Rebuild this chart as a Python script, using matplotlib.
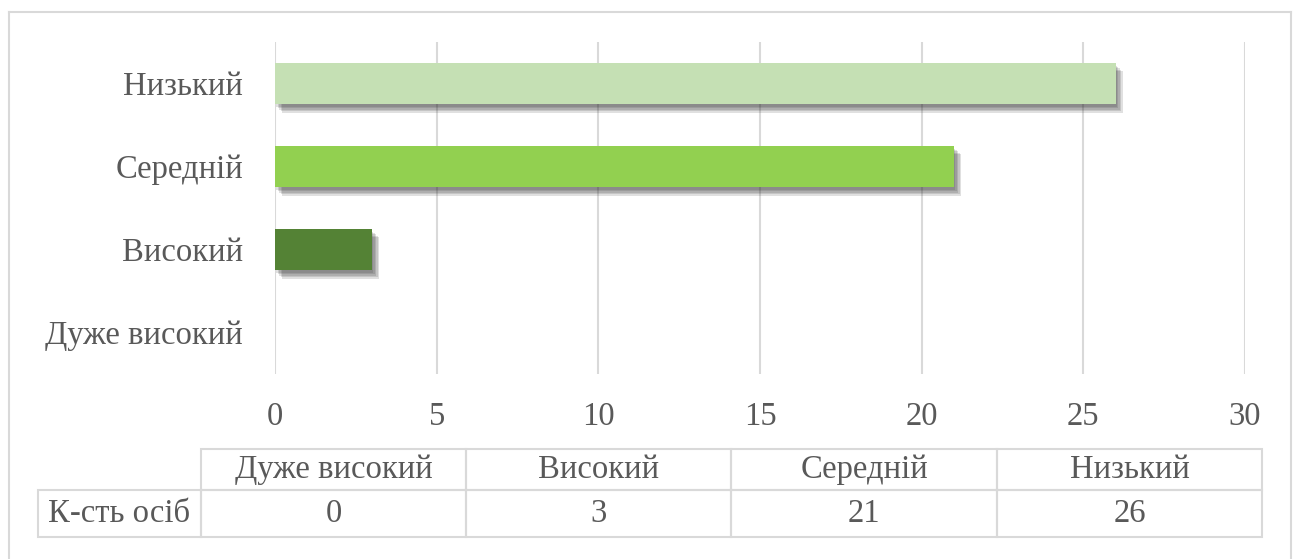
import matplotlib.pyplot as plt
import matplotlib.patheffects as pe
from matplotlib.patches import Rectangle
from matplotlib.lines import Line2D

categories = ["Дуже високий", "Високий", "Середній", "Низький"]
counts = [0, 3, 21, 26]
bar_colors = ["#A9D18E", "#548235", "#92D050", "#C5E0B4"]
row_label = "К-сть осіб"
x_ticks = [0, 5, 10, 15, 20, 25, 30]

TEXT = "#595959"
GRID = "#D9D9D9"
FS = 23.5
W, H = 1299, 559

plt.rcParams["font.family"] = ["Liberation Serif", "DejaVu Serif"]

fig = plt.figure(figsize=(W / 100, H / 100), dpi=100)


def fig_box(x0, y0, x1, y1):
    # pixel box (top-left origin) -> figure fraction rect
    return [x0 / W, 1 - y1 / H, (x1 - x0) / W, (y1 - y0) / H]


# outer chart border
for xs, ys in [([9, 9], [12, H]), ([9, 1291], [12, 12]), ([1291, 1291], [12, H])]:
    fig.add_artist(Line2D([x / W for x in xs], [1 - y / H for y in ys],
                          color=GRID, lw=1.5))

ax = fig.add_axes(fig_box(275, 42, 1245, 374))
ypos = range(len(categories))
# soft drop shadow built from a few faint offset copies
shadow = [pe.SimplePatchShadow(offset=(o, -o - 1), shadow_rgbFace="#303030",
                               alpha=0.15) for o in (5, 4, 3, 2, 1)]
shadow.append(pe.Normal())
bars = ax.barh(ypos, counts, height=0.5, color=bar_colors, zorder=3)
for b, v in zip(bars, counts):
    if v > 0:
        b.set_path_effects(shadow)

ax.set_xlim(0, 30)
ax.set_ylim(-0.5, len(categories) - 0.5)
ax.set_xticks(x_ticks)
ax.set_xticklabels([str(t) for t in x_ticks])
ax.set_yticks(list(ypos))
ax.set_yticklabels(categories)
ax.grid(axis="x", color=GRID, lw=1.5, zorder=0)
for s in ax.spines.values():
    s.set_visible(False)
ax.tick_params(axis="both", length=0, labelsize=FS, colors=TEXT)
ax.tick_params(axis="x", pad=20)
ax.tick_params(axis="y", pad=23)

# data table below the chart
tx = [38, 201, 466, 731, 997, 1262]
ty = [449, 490, 537]
tab = fig.add_axes(fig_box(tx[0], ty[0], tx[-1], ty[-1]))
tab.set_xlim(tx[0], tx[-1])
tab.set_ylim(ty[-1], ty[0])
tab.axis("off")
for i, (cat, v) in enumerate(zip(categories, counts)):
    x0, x1 = tx[i + 1], tx[i + 2]
    for r in range(2):
        tab.add_patch(Rectangle((x0, ty[r]), x1 - x0, ty[r + 1] - ty[r],
                                fill=False, ec=GRID, lw=1.5, clip_on=False))
    xc = (x0 + x1) / 2
    tab.text(xc, (ty[0] + ty[1]) / 2, cat, ha="center", va="center",
             fontsize=FS, color=TEXT)
    tab.text(xc, (ty[1] + ty[2]) / 2, str(v), ha="center", va="center",
             fontsize=FS, color=TEXT)
tab.add_patch(Rectangle((tx[0], ty[1]), tx[1] - tx[0], ty[2] - ty[1],
                        fill=False, ec=GRID, lw=1.5, clip_on=False))
tab.text((tx[0] + tx[1]) / 2, (ty[1] + ty[2]) / 2, row_label, ha="center",
         va="center", fontsize=FS, color=TEXT)

fig.savefig("out.png", dpi=100)
